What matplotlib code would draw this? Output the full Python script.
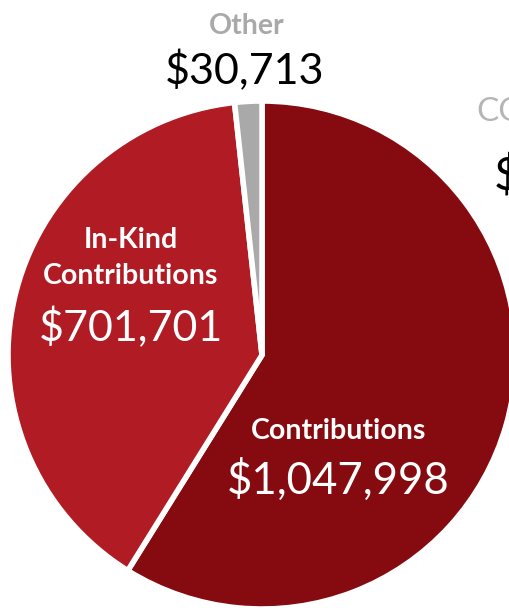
import matplotlib.pyplot as plt

# Data
labels = ["Contributions", "In-Kind\nContributions", "Other"]
amounts = [1047998, 701701, 30713]
colors = ["#850B10", "#B01B24", "#A9A9A9"]

W, H = 510, 608
cx, cy, r = 262, 355, 254  # pie centre / radius in pixels (from top-left)

fig = plt.figure(figsize=(W / 100, H / 100), dpi=100)
ax = fig.add_axes([0, 0, 1, 1])
ax.pie(amounts, colors=colors, startangle=90, counterclock=False,
       wedgeprops=dict(edgecolor="white", linewidth=4))
ax.set_aspect("equal")
ax.set_xlim(-cx / r, (W - cx) / r)
ax.set_ylim(-(H - cy) / r, cy / r)
ax.axis("off")

font = "Lato"


def fx(x):
    return x / W


def fy(y):
    return 1 - y / H


def money(v):
    return f"${v:,}"


# Other (outside, above the pie)
fig.text(fx(247), fy(26), "Other", color="#A9A9A9", fontsize=20.5,
         fontweight="bold", family=font, ha="center", va="center")
fig.text(fx(245), fy(71), money(amounts[2]), color="black", fontsize=31,
         fontweight="normal", family=font, ha="center", va="center")

# In-Kind
fig.text(fx(131), fy(258), labels[1], color="white", fontsize=20.5,
         fontweight="bold", family=font, ha="center", va="center",
         linespacing=1.45)
fig.text(fx(131), fy(328), money(amounts[1]), color="white", fontsize=31,
         fontweight="normal", family=font, ha="center", va="center")

# Contributions
fig.text(fx(339), fy(431), labels[0], color="white", fontsize=20.5,
         fontweight="bold", family=font, ha="center", va="center")
fig.text(fx(338), fy(480), money(amounts[0]), color="white", fontsize=31.5,
         fontweight="normal", family=font, ha="center", va="center")

# neighbouring label cut off at the right edge
fig.text(fx(476), fy(112), "CO", color="#B5B5B5", fontsize=24,
         fontweight="normal", family=font, ha="left", va="center")
fig.text(fx(494), fy(176), "$", color="black", fontsize=34,
         fontweight="normal", family=font, ha="left", va="center")

fig.savefig("out.png", dpi=100)
